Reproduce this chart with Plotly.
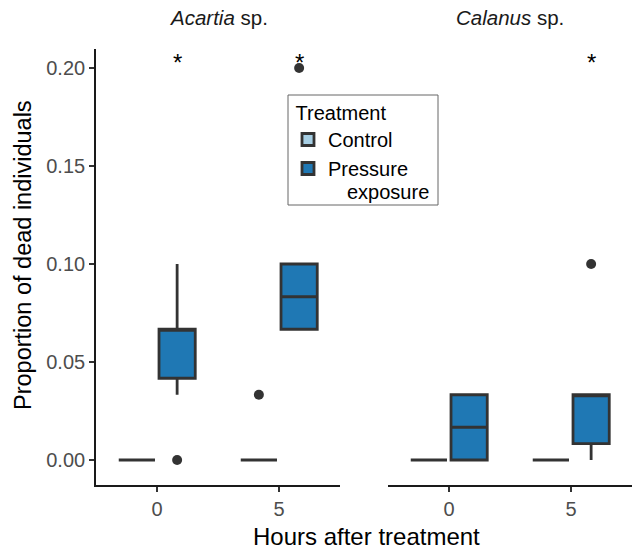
import plotly.graph_objects as go

# ---------------- data ----------------
hours = ["0", "5"]
species = ["Acartia", "Calanus"]
treatments = ["Control", "Pressure"]
treatment_line2 = "exposure"

# Acartia sp.
acartia_ctrl_q1 = [0.0, 0.0]
acartia_ctrl_med = [0.0, 0.0]
acartia_ctrl_q3 = [0.0, 0.0]
acartia_ctrl_lo = [0.0, 0.0]
acartia_ctrl_hi = [0.0, 0.0]
acartia_ctrl_pts = [[0.0], [0.0, 0.0333]]

acartia_pres_q1 = [0.0417, 0.0667]
acartia_pres_med = [0.0667, 0.0833]
acartia_pres_q3 = [0.0667, 0.1000]
acartia_pres_lo = [0.0333, 0.0667]
acartia_pres_hi = [0.1000, 0.1000]
acartia_pres_pts = [[0.0, 0.0667], [0.0833, 0.2000]]

# Calanus sp.
calanus_ctrl_q1 = [0.0, 0.0]
calanus_ctrl_med = [0.0, 0.0]
calanus_ctrl_q3 = [0.0, 0.0]
calanus_ctrl_lo = [0.0, 0.0]
calanus_ctrl_hi = [0.0, 0.0]
calanus_ctrl_pts = [[0.0], [0.0]]

calanus_pres_q1 = [0.0, 0.0083]
calanus_pres_med = [0.0167, 0.0333]
calanus_pres_q3 = [0.0333, 0.0333]
calanus_pres_lo = [0.0, 0.0]
calanus_pres_hi = [0.0333, 0.0333]
calanus_pres_pts = [[0.0, 0.0333], [0.0333, 0.1000]]

# significance marks (pressure boxes)
acartia_sig = ["0", "5"]
calanus_sig = ["5"]
sig_y = 0.2

# ---------------- style ----------------
FONT = "Liberation Sans"
C_CTRL = "#a6cee3"
C_PRES = "#1f78b4"
LINE = "#333333"
W, H = 633, 549
ML, MR, MT, MB = 96, 1, 49, 64
PW, PH = W - ML - MR, H - MT - MB


def px_x(p):
    return (p - ML) / PW


def px_y(p):
    return (H - MB - p) / PH


fig = go.Figure()


def add_box(xaxis, name, color, q1, med, q3, lo, hi, pts, showlegend, group):
    fig.add_trace(go.Box(
        x=hours, q1=q1, median=med, q3=q3, lowerfence=lo, upperfence=hi,
        y=pts, boxpoints="outliers", jitter=0, pointpos=0,
        name=name, legendgroup=group, showlegend=showlegend, offsetgroup=group,
        fillcolor=color, line=dict(color=LINE, width=2.8), whiskerwidth=0,
        marker=dict(color=LINE, size=10, line=dict(width=0)),
        xaxis=xaxis, yaxis="y", hoverinfo="skip",
    ))


add_box("x", treatments[0], C_CTRL, acartia_ctrl_q1, acartia_ctrl_med, acartia_ctrl_q3,
        acartia_ctrl_lo, acartia_ctrl_hi, acartia_ctrl_pts, True, "ctrl")
add_box("x", treatments[1], C_PRES, acartia_pres_q1, acartia_pres_med, acartia_pres_q3,
        acartia_pres_lo, acartia_pres_hi, acartia_pres_pts, True, "pres")
add_box("x2", treatments[0], C_CTRL, calanus_ctrl_q1, calanus_ctrl_med, calanus_ctrl_q3,
        calanus_ctrl_lo, calanus_ctrl_hi, calanus_ctrl_pts, False, "ctrl")
add_box("x2", treatments[1], C_PRES, calanus_pres_q1, calanus_pres_med, calanus_pres_q3,
        calanus_pres_lo, calanus_pres_hi, calanus_pres_pts, False, "pres")

DODGE = 20  # pixel offset of the pressure box from category centre
annotations = []
for xa, sig in (("x", acartia_sig), ("x2", calanus_sig)):
    for h in sig:
        annotations.append(dict(
            x=hours.index(h), y=sig_y, xref=xa, yref="y", text="*", showarrow=False,
            xshift=DODGE, yshift=6, xanchor="center", yanchor="middle",
            font=dict(family=FONT, size=24, color="#000000")))

dom1 = [0, px_x(340)]
dom2 = [px_x(388), 1]
annotations += [
    dict(x=(dom1[0] + dom1[1]) / 2, y=px_y(17), xref="paper", yref="paper",
         text="<i>Acartia</i> sp.", showarrow=False, xanchor="center", yanchor="middle",
         font=dict(family=FONT, size=20.5, color="#1a1a1a")),
    dict(x=(dom2[0] + dom2[1]) / 2, y=px_y(17), xref="paper", yref="paper",
         text="<i>Calanus</i> sp.", showarrow=False, xanchor="center", yanchor="middle",
         font=dict(family=FONT, size=20.5, color="#1a1a1a")),
    dict(x=px_x(366), y=px_y(536), xref="paper", yref="paper",
         text="Hours after treatment", showarrow=False, xanchor="center", yanchor="middle",
         font=dict(family=FONT, size=24, color="#000000")),
    dict(x=px_x(23), y=px_y(255), xref="paper", yref="paper",
         text="Proportion of dead individuals", showarrow=False, textangle=-90,
         xanchor="center", yanchor="middle",
         font=dict(family=FONT, size=23.5, color="#000000")),
    # second line of the "Pressure exposure" legend label
    dict(x=px_x(388), y=px_y(192), xref="paper", yref="paper",
         text=treatment_line2, showarrow=False, xanchor="center", yanchor="middle",
         font=dict(family=FONT, size=20, color="#000000")),
]

shapes = [dict(type="rect", xref="paper", yref="paper",
               x0=px_x(288), x1=px_x(438), y0=px_y(205), y1=px_y(95),
               line=dict(color="#666666", width=1), fillcolor="rgba(0,0,0,0)", layer="above")]

xcommon = dict(type="category", range=[-0.5, 1.5], showline=True, linecolor="#1a1a1a",
               linewidth=1.6, ticks="outside", ticklen=5, tickwidth=1.6, tickcolor="#333333",
               showgrid=False, zeroline=False, anchor="y",
               tickfont=dict(family=FONT, size=20, color="#4d4d4d"))

fig.update_layout(
    width=W, height=H,
    margin=dict(l=ML, r=MR, t=MT, b=MB),
    paper_bgcolor="white", plot_bgcolor="white",
    boxmode="group", boxgap=0.34, boxgroupgap=0.1,
    xaxis=dict(domain=dom1, **xcommon),
    xaxis2=dict(domain=dom2, **xcommon),
    yaxis=dict(range=[-0.01276, 0.2097], tickvals=[0, 0.05, 0.10, 0.15, 0.20],
               tickformat=".2f", showline=True, linecolor="#1a1a1a", linewidth=1.6,
               ticks="outside", ticklen=5, tickwidth=1.6, tickcolor="#333333",
               showgrid=False, zeroline=False, anchor="x",
               tickfont=dict(family=FONT, size=20, color="#4d4d4d")),
    legend=dict(x=px_x(288), y=px_y(94), xanchor="left", yanchor="top",
                borderwidth=0, bgcolor="rgba(0,0,0,0)",
                title=dict(text="\u00a0Treatment", font=dict(family=FONT, size=20, color="#000000")),
                font=dict(family=FONT, size=20, color="#000000"),
                tracegroupgap=0),
    annotations=annotations,
    shapes=shapes,
    showlegend=True,
)

fig.write_html("out.html")
